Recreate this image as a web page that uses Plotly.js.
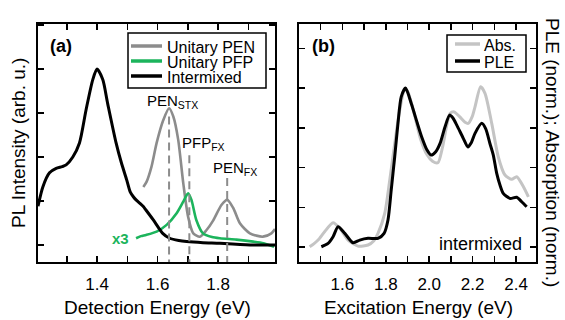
<!DOCTYPE html>
<html>
<head>
<meta charset="utf-8">
<script src="https://cdn.plot.ly/plotly-3.0.1.min.js"></script>
<style>html,body{margin:0;padding:0;background:#fff;}#chart{width:565px;height:320px;}</style>
</head>
<body>
<div id="chart"></div>
<script>
// ---------- Data: panel (a) PL spectra ----------
const detEnergyIntermixed = [1.205,1.221,1.243,1.265,1.285,1.298,1.320,1.342,1.364,1.386,1.400,1.419,1.435,1.463,1.480,1.498,1.510,1.520,1.529,1.553,1.561,1.586,1.617,1.640,1.670,1.696,1.750,1.806,1.915,1.988];
const plIntermixed      = [0.22,0.33,0.41,0.435,0.445,0.455,0.50,0.58,0.77,0.94,1.0,0.94,0.805,0.58,0.47,0.37,0.30,0.274,0.256,0.218,0.20,0.142,0.066,0.038,0.025,0.019,0.013,0.010,0.0,0.0];

const detEnergyPEN = [1.553,1.564,1.580,1.597,1.619,1.638,1.652,1.668,1.685,1.701,1.718,1.740,1.762,1.784,1.811,1.830,1.850,1.872,1.905,1.948,1.976,1.988];
const plPEN        = [0.33,0.36,0.445,0.58,0.71,0.777,0.73,0.60,0.35,0.16,0.066,0.047,0.085,0.14,0.227,0.256,0.21,0.123,0.066,0.047,0.066,0.09];

const detEnergyPFP = [1.529,1.545,1.562,1.597,1.630,1.663,1.685,1.701,1.712,1.728,1.750,1.780,1.806,1.860,1.916,1.950,1.985];
const plPFPx3      = [0.038,0.05,0.057,0.076,0.114,0.18,0.246,0.294,0.256,0.142,0.066,0.045,0.038,0.03,0.019,0.01,-0.01];

const peakEnergies = [1.638, 1.705, 1.830];
const peakLabels   = ['PEN<sub>STX</sub>', 'PFP<sub>FX</sub>', 'PEN<sub>FX</sub>'];

// ---------- Data: panel (b) PLE / absorption ----------
const excEnergyPLE = [1.503,1.534,1.557,1.580,1.611,1.649,1.680,1.718,1.764,1.792,1.810,1.825,1.841,1.856,1.871,1.891,1.918,1.945,1.965,1.990,2.008,2.030,2.050,2.073,2.094,2.110,2.127,2.157,2.178,2.195,2.211,2.242,2.260,2.280,2.295,2.311,2.326,2.341,2.372,2.403,2.426,2.449];
const ple          = [0.002,0.023,0.065,0.128,0.086,0.027,0.044,0.055,0.055,0.086,0.17,0.36,0.568,0.778,0.945,1.0,0.90,0.78,0.694,0.61,0.579,0.60,0.652,0.757,0.83,0.81,0.767,0.684,0.63,0.66,0.715,0.778,0.745,0.65,0.58,0.463,0.39,0.338,0.306,0.313,0.285,0.253];

const excEnergyAbs = [1.449,1.468,1.488,1.518,1.557,1.588,1.626,1.672,1.718,1.745,1.764,1.795,1.818,1.841,1.864,1.887,1.900,1.925,1.960,1.990,2.015,2.040,2.060,2.080,2.096,2.115,2.140,2.165,2.180,2.198,2.211,2.237,2.257,2.288,2.318,2.349,2.380,2.403,2.434,2.457];
const absorption   = [0.002,0.02,0.044,0.096,0.153,0.118,0.044,0.006,0.013,0.04,0.086,0.212,0.42,0.65,0.86,0.99,0.98,0.87,0.68,0.58,0.54,0.53,0.62,0.76,0.84,0.85,0.82,0.785,0.778,0.82,0.882,1.008,0.967,0.778,0.568,0.453,0.426,0.442,0.379,0.316];

// ---------- Tick definitions ----------
const detTickVals   = [1.4,1.6,1.8];
const detTickText   = ['1.4','1.6','1.8'];
const detMinorVals  = [1.3,1.5,1.7,1.9];
const excTickVals   = [1.6,1.8,2.0,2.2,2.4];
const excTickText   = ['1.6','1.8','2.0','2.2','2.4'];
const excMinorVals  = [1.5,1.7,1.9,2.1,2.3];
const intTickVals   = [0,0.25,0.5,0.75,1.0,1.25];

// ---------- Styling ----------
const W = 565, H = 320;
const px = v => v / W;
const py = v => 1 - v / H;
const FONT = 'Liberation Sans, Arial, sans-serif';
const GRAY = '#8c8c8c', GREEN = '#1cb45c', LIGHT = '#c4c4c4';

const line = {shape: 'spline', smoothing: 0.7};

const traces = [
  {x: detEnergyPEN, y: plPEN, xaxis: 'x', yaxis: 'y', mode: 'lines', name: 'Unitary PEN',
   line: Object.assign({color: GRAY, width: 2.6}, line)},
  {x: detEnergyPFP, y: plPFPx3, xaxis: 'x', yaxis: 'y', mode: 'lines', name: 'Unitary PFP',
   line: Object.assign({color: GREEN, width: 2.6}, line)},
  {x: detEnergyIntermixed, y: plIntermixed, xaxis: 'x', yaxis: 'y', mode: 'lines', name: 'Intermixed',
   line: Object.assign({color: '#000', width: 3}, line)},
  {x: excEnergyAbs, y: absorption, xaxis: 'x2', yaxis: 'y2', mode: 'lines', name: 'Abs.',
   line: Object.assign({color: LIGHT, width: 3}, line)},
  {x: excEnergyPLE, y: ple, xaxis: 'x2', yaxis: 'y2', mode: 'lines', name: 'PLE',
   line: Object.assign({color: '#000', width: 3}, line)}
];

const axisCommon = {
  showline: true, linecolor: '#000', linewidth: 2, mirror: 'ticks',
  ticks: 'inside', ticklen: 6, tickwidth: 1.5, tickcolor: '#000',
  showgrid: false, zeroline: false, fixedrange: true,
  tickfont: {family: FONT, size: 17, color: '#000'}
};
const minorCommon = {ticks: 'inside', ticklen: 6, tickwidth: 1.5, tickcolor: '#000', showgrid: false};

const shapes = [];
const annotations = [];

// dashed peak markers (panel a)
const markerTops = [0.73, 0.51, 0.38];
peakEnergies.forEach((e, i) => {
  shapes.push({type: 'line', xref: 'x', yref: 'y', x0: e, x1: e, y0: markerTops[i], y1: -0.1,
    line: {color: '#8c8c8c', width: 2, dash: '8px,5px'}});
});
const labelPos = [[172, 101], [203, 143], [235, 168]];
peakLabels.forEach((t, i) => {
  annotations.push({xref: 'paper', yref: 'paper', x: px(labelPos[i][0]), y: py(labelPos[i][1]),
    text: t, showarrow: false, xanchor: 'center', yanchor: 'middle',
    font: {family: FONT, size: 15, color: '#000'}});
});

// legend (a)
shapes.push({type: 'rect', xref: 'paper', yref: 'paper', x0: px(128), x1: px(266), y0: py(33), y1: py(88),
  line: {color: '#000', width: 1.5}, fillcolor: '#fff', layer: 'above'});
const legA = [['Unitary PEN', GRAY, 46], ['Unitary PFP', GREEN, 61], ['Intermixed', '#000', 76]];
legA.forEach(([t, c, yy]) => {
  shapes.push({type: 'line', xref: 'paper', yref: 'paper', x0: px(131), x1: px(162), y0: py(yy), y1: py(yy),
    line: {color: c, width: 3.5}, layer: 'above'});
  annotations.push({xref: 'paper', yref: 'paper', x: px(165), y: py(yy + 1.5), text: t, showarrow: false,
    xanchor: 'left', yanchor: 'middle', font: {family: FONT, size: 16, color: '#000'}});
});

// legend (b)
shapes.push({type: 'rect', xref: 'paper', yref: 'paper', x0: px(447), x1: px(526), y0: py(35), y1: py(72),
  line: {color: '#000', width: 1.5}, fillcolor: '#fff', layer: 'above'});
const legB = [['Abs.', LIGHT, 44], ['PLE', '#000', 61]];
legB.forEach(([t, c, yy]) => {
  shapes.push({type: 'line', xref: 'paper', yref: 'paper', x0: px(455), x1: px(480), y0: py(yy), y1: py(yy),
    line: {color: c, width: 3.5}, layer: 'above'});
  annotations.push({xref: 'paper', yref: 'paper', x: px(482), y: py(yy + 1.5), text: t, showarrow: false,
    xanchor: 'left', yanchor: 'middle', font: {family: FONT, size: 16, color: '#000'}});
});

// text labels
const txt = (t, x, y, opts) => annotations.push(Object.assign({xref: 'paper', yref: 'paper', x: px(x), y: py(y),
  text: t, showarrow: false, xanchor: 'center', yanchor: 'middle',
  font: {family: FONT, size: 19, color: '#000'}}, opts || {}));

txt('<b>(a)</b>', 61, 46, {font: {family: FONT, size: 18, color: '#000'}});
txt('<b>(b)</b>', 323, 46, {font: {family: FONT, size: 18, color: '#000'}});
txt('<b>x3</b>', 120, 238, {font: {family: FONT, size: 15, color: GREEN}});
txt('intermixed', 481, 244, {font: {family: FONT, size: 18, color: '#000'}});
txt('Detection Energy (eV)', 157, 307);
txt('Excitation Energy (eV)', 418, 307);
txt('PL Intensity (arb. u.)', 18, 143, {textangle: -90});
txt('PLE (norm.); Absorption (norm.)', 553, 152, {textangle: 90});

const layout = {
  width: W, height: H,
  margin: {l: 0, r: 0, t: 0, b: 0, pad: 0},
  paper_bgcolor: '#fff', plot_bgcolor: '#fff',
  showlegend: false,
  font: {family: FONT, color: '#000'},
  xaxis: Object.assign({}, axisCommon, {domain: [px(38), px(275)], range: [1.205, 1.988],
    tickmode: 'array', tickvals: detTickVals, ticktext: detTickText, anchor: 'y', ticklabelstandoff: 6,
    minor: Object.assign({tickmode: 'array', tickvals: detMinorVals}, minorCommon)}),
  yaxis: Object.assign({}, axisCommon, {domain: [py(262), py(24)], range: [-0.097, 1.256],
    tickmode: 'array', tickvals: intTickVals, showticklabels: false, anchor: 'x'}),
  xaxis2: Object.assign({}, axisCommon, {domain: [px(299), px(536)], range: [1.40, 2.492],
    tickmode: 'array', tickvals: excTickVals, ticktext: excTickText, anchor: 'y2', ticklabelstandoff: 6,
    minor: Object.assign({tickmode: 'array', tickvals: excMinorVals}, minorCommon)}),
  yaxis2: Object.assign({}, axisCommon, {domain: [py(262), py(24)], range: [-0.094, 1.403],
    tickmode: 'array', tickvals: intTickVals, showticklabels: false, anchor: 'x2'}),
  shapes: shapes,
  annotations: annotations
};

Plotly.newPlot('chart', traces, layout, {staticPlot: true, displayModeBar: false});
</script>
</body>
</html>
